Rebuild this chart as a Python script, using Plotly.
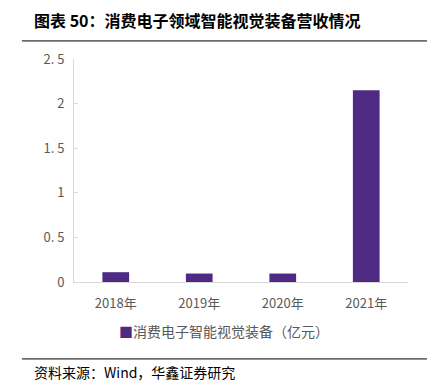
import plotly.graph_objects as go

categories = ["2018年", "2019年", "2020年", "2021年"]
values = [0.11, 0.095, 0.095, 2.15]
series_name = "消费电子智能视觉装备（亿元）"
y_ticks = [0, 0.5, 1, 1.5, 2, 2.5]
y_ticktext = ["0", "0. 5", "1", "1. 5", "2", "2. 5"]

title_text = "图表 50：消费电子领域智能视觉装备营收情况"
source_text = "资料来源：Wind，华鑫证券研究"
bar_color = "#4E2A84"

fig = go.Figure()
fig.add_trace(go.Bar(
    x=categories, y=values, name=series_name,
    marker=dict(color=bar_color, line=dict(width=0)),
    showlegend=False,
))

fig.update_layout(
    width=427, height=376,
    margin=dict(l=66, r=27, t=51, b=102, autoexpand=False),
    paper_bgcolor="white", plot_bgcolor="white",
    bargap=0.68,
    font=dict(family="Noto Sans CJK SC, DejaVu Sans", color="#595959", size=13),
    xaxis=dict(showline=True, linecolor="#D9D9D9", linewidth=1, ticks="",
               showgrid=False, ticklabelstandoff=9,
               tickfont=dict(size=13, color="#595959")),
    yaxis=dict(range=[0, 2.5], tickvals=y_ticks, ticktext=y_ticktext,
               showline=True, linecolor="#D9D9D9", linewidth=1,
               ticks="inside", ticklen=4, tickcolor="#D9D9D9",
               showgrid=False, zeroline=False, ticklabelstandoff=6,
               tickfont=dict(size=13, color="#595959")),
)

# legend drawn as text
fig.add_annotation(
    text='<span style="color:%s">■</span>%s' % (bar_color, series_name),
    xref="paper", yref="paper", x=0.449, y=-0.22,
    xanchor="center", yanchor="middle", showarrow=False,
    font=dict(family="Noto Sans CJK SC", size=14, color="#595959"))

fig.add_annotation(text="<b>" + title_text + "</b>", xref="paper", yref="paper",
                   x=-0.126, y=1.175, xanchor="left", yanchor="middle",
                   showarrow=False,
                   font=dict(family="Noto Sans CJK SC", size=16, color="black"))
fig.add_shape(type="line", xref="paper", yref="paper",
              x0=-0.156, x1=1.081, y0=1.081, y1=1.081,
              line=dict(color="black", width=1))
fig.add_shape(type="line", xref="paper", yref="paper",
              x0=-0.156, x1=1.081, y0=-0.345, y1=-0.345,
              line=dict(color="black", width=1))
fig.add_annotation(text=source_text, xref="paper", yref="paper",
                   x=-0.126, y=-0.404, xanchor="left", yanchor="middle",
                   showarrow=False,
                   font=dict(family="Noto Sans CJK SC", size=14, color="black"))

fig.write_html("out.html")
